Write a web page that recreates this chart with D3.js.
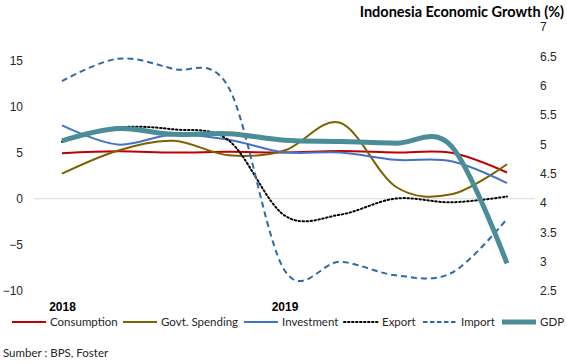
<!DOCTYPE html>
<html>
<head>
<meta charset="utf-8">
<script src="https://cdn.jsdelivr.net/npm/d3@7"></script>
<style>
  body { margin: 0; background: #fff; }
  svg { font-family: Lato, "Open Sans", sans-serif; }
  .tick text { fill: #262626; font-size: 12px; }
</style>
</head>
<body>
<script>
const QUARTERS = ["2018 Q1", "2018 Q2", "2018 Q3", "2018 Q4", "2019 Q1", "2019 Q2", "2019 Q3", "2019 Q4", "2020 Q1"];
const QUARTER_LABELS = ["2018", "", "", "", "2019", "", "", "", ""];

const consumption = [4.94, 5.14, 5.01, 5.08, 5.02, 5.17, 5.01, 4.97, 2.84];
const govSpending = [2.71, 5.20, 6.27, 4.7, 5.22, 8.23, 1.3, 0.48, 3.74];
const investment = [7.94, 5.87, 6.96, 6.4, 5.03, 5.01, 4.21, 4.06, 1.70];
const exports = [6.17, 7.70, 7.52, 6.3, -1.81, -1.73, 0.02, -0.39, 0.24];
const imports = [12.75, 15.17, 14.06, 12.0, -7.75, -6.84, -8.3, -8.05, -2.19];
const gdp = [5.06, 5.27, 5.17, 5.18, 5.07, 5.05, 5.02, 4.97, 2.97];

const LEFT_TICKS = [-10, -5, 0, 5, 10, 15];
const RIGHT_TICKS = [2.5, 3, 3.5, 4, 4.5, 5, 5.5, 6, 6.5, 7];

const SERIES = [
    { name: "Consumption", values: consumption, color: "#C00000", width: 2, dash: null, axis: "left" },
    { name: "Govt. Spending", values: govSpending, color: "#7F6000", width: 2, dash: null, axis: "left" },
    { name: "Investment", values: investment, color: "#4472C4", width: 2, dash: null, axis: "left" },
    { name: "Export", values: exports, color: "#000000", width: 2, dash: "1.5 2.5", axis: "left" },
    { name: "Import", values: imports, color: "#2E6AA6", width: 2, dash: "6 4", axis: "left" },
    { name: "GDP", values: gdp, color: "#4A8C98", width: 5, dash: null, axis: "right" }
];

const width = 567, height = 364;

const svg = d3.select("body").append("svg")
    .attr("width", width)
    .attr("height", height);

const x = d3.scalePoint().domain(QUARTERS).range([62, 507]);
const yLeft = d3.scaleLinear().domain([-10, 15]).range([291, 60.3]);
const yRight = d3.scaleLinear().domain([2.5, 7]).range([291, 27]);

// zero line
svg.append("line")
    .attr("x1", 34).attr("x2", 535)
    .attr("y1", yLeft(0)).attr("y2", yLeft(0))
    .attr("stroke", "#d9d9d9").attr("stroke-width", 1);

const leftAxis = svg.append("g")
    .attr("transform", "translate(26,0)")
    .call(d3.axisLeft(yLeft).tickValues(LEFT_TICKS).tickSize(0).tickPadding(3).tickFormat(d3.format("d")));
leftAxis.select(".domain").remove();

const rightAxis = svg.append("g")
    .attr("transform", "translate(537,0)")
    .call(d3.axisRight(yRight).tickValues(RIGHT_TICKS).tickSize(0).tickPadding(3).tickFormat(d => d));
rightAxis.select(".domain").remove();

const bottomAxis = svg.append("g")
    .attr("transform", "translate(0,299)")
    .call(d3.axisBottom(x).tickSize(0).tickPadding(3).tickFormat((d, i) => QUARTER_LABELS[i]));
bottomAxis.select(".domain").remove();
bottomAxis.selectAll("text").attr("font-weight", "bold").style("fill", "#000");

const curve = d3.curveCardinal.tension(0);

SERIES.forEach(s => {
    const yScale = s.axis === "left" ? yLeft : yRight;
    const line = d3.line()
        .x((d, i) => x(QUARTERS[i]))
        .y(d => yScale(d))
        .curve(curve);
    svg.append("path")
        .datum(s.values)
        .attr("d", line)
        .attr("fill", "none")
        .attr("stroke", s.color)
        .attr("stroke-width", s.width)
        .attr("stroke-dasharray", s.dash)
        .attr("stroke-linecap", s.name === "Export" ? "round" : "butt");
});

// title
svg.append("text")
    .attr("x", 564).attr("y", 17)
    .attr("text-anchor", "end")
    .attr("font-weight", "bold")
    .attr("font-size", 14.5)
    .attr("fill", "#000")
    .text("Indonesia Economic Growth (%)");

// legend
const LEGEND_X = [12, 123, 244, 344, 423, 502];
const legend = svg.append("g").attr("transform", "translate(0,322)");
SERIES.forEach((s, i) => {
    const g = legend.append("g").attr("transform", `translate(${LEGEND_X[i]},0)`);
    g.append("line")
        .attr("x1", 0).attr("x2", 34)
        .attr("stroke", s.color)
        .attr("stroke-width", s.width)
        .attr("stroke-dasharray", s.name === "Import" ? "4.5 2.5" : s.dash)
        .attr("stroke-linecap", s.name === "Export" ? "round" : "butt");
    g.append("text")
        .attr("x", 38).attr("y", 4)
        .attr("font-size", 11.5)
        .attr("fill", "#262626")
        .text(s.name);
});

svg.append("text")
    .attr("x", 3).attr("y", 357)
    .attr("font-size", 11.5)
    .attr("fill", "#262626")
    .text("Sumber : BPS, Foster");
</script>
</body>
</html>
